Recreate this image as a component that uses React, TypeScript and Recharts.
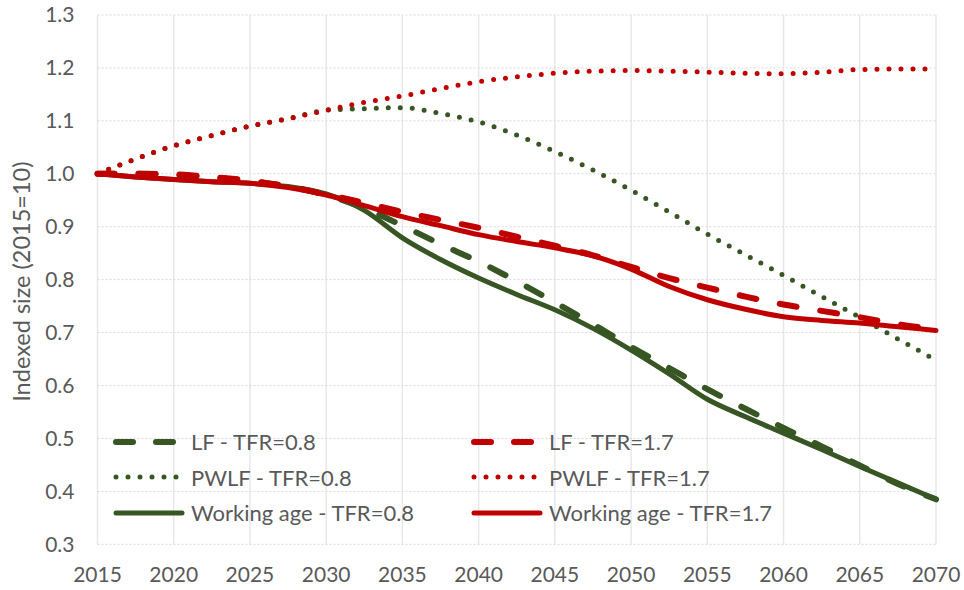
import { LineChart, Line, XAxis, YAxis, CartesianGrid } from 'recharts';

const years = [
  2015, 2017.5, 2020, 2022.5, 2025, 2027.5, 2030, 2032.5, 2035, 2037.5, 2040, 2042.5,
  2045, 2047.5, 2050, 2052.5, 2055, 2057.5, 2060, 2062.5, 2065, 2067.5, 2070,
];

const lf08 = [
  1.0, 1.0, 0.998, 0.993, 0.986, 0.976, 0.96, 0.935, 0.902, 0.867, 0.834, 0.797,
  0.757, 0.716, 0.673, 0.633, 0.593, 0.556, 0.52, 0.485, 0.449, 0.414, 0.385,
];
const pwlf08 = [
  1.0, 1.028, 1.053, 1.072, 1.09, 1.104, 1.12, 1.123, 1.125, 1.114, 1.098, 1.073,
  1.042, 1.007, 0.969, 0.928, 0.886, 0.847, 0.808, 0.768, 0.729, 0.688, 0.648,
];
const wa08 = [
  1.0, 0.994, 0.989, 0.985, 0.982, 0.976, 0.962, 0.931, 0.879, 0.838, 0.803, 0.772,
  0.743, 0.708, 0.667, 0.622, 0.574, 0.541, 0.51, 0.479, 0.447, 0.416, 0.385,
];
const lf17 = [
  1.0, 1.0, 0.999, 0.994, 0.987, 0.976, 0.961, 0.945, 0.928, 0.913, 0.898, 0.881,
  0.864, 0.846, 0.824, 0.803, 0.785, 0.768, 0.753, 0.741, 0.729, 0.716, 0.706,
];
const pwlf17 = [
  1.0, 1.028, 1.053, 1.072, 1.09, 1.104, 1.12, 1.135, 1.147, 1.161, 1.174, 1.183,
  1.19, 1.194, 1.195, 1.194, 1.192, 1.19, 1.189, 1.192, 1.197, 1.198, 1.198,
];
const wa17 = [
  1.0, 0.994, 0.989, 0.985, 0.982, 0.974, 0.96, 0.94, 0.919, 0.902, 0.885, 0.872,
  0.86, 0.845, 0.82, 0.787, 0.762, 0.744, 0.73, 0.723, 0.718, 0.711, 0.704,
];

const xTicks = [2015, 2020, 2025, 2030, 2035, 2040, 2045, 2050, 2055, 2060, 2065, 2070];
const yTicks = [0.3, 0.4, 0.5, 0.6, 0.7, 0.8, 0.9, 1.0, 1.1, 1.2, 1.3];

const GREEN = '#375623';
const RED = '#c00000';
const TEXT = '#595959';
const FONT = 'Lato, "Open Sans", sans-serif';

const data = years.map((year, i) => ({
  year,
  lf08: lf08[i],
  pwlf08: pwlf08[i],
  wa08: wa08[i],
  lf17: lf17[i],
  pwlf17: pwlf17[i],
  wa17: wa17[i],
}));

type Style = 'dash' | 'dot' | 'solid';

const series: { key: string; name: string; color: string; style: Style }[] = [
  { key: 'lf08', name: 'LF - TFR=0.8', color: GREEN, style: 'dash' },
  { key: 'pwlf08', name: 'PWLF - TFR=0.8', color: GREEN, style: 'dot' },
  { key: 'wa08', name: 'Working age - TFR=0.8', color: GREEN, style: 'solid' },
  { key: 'lf17', name: 'LF - TFR=1.7', color: RED, style: 'dash' },
  { key: 'pwlf17', name: 'PWLF - TFR=1.7', color: RED, style: 'dot' },
  { key: 'wa17', name: 'Working age - TFR=1.7', color: RED, style: 'solid' },
];

const strokeFor = (s: Style) => {
  if (s === 'dash') return { strokeWidth: 6, strokeDasharray: '17 24' };
  if (s === 'dot') return { strokeWidth: 5, strokeDasharray: '0 12' };
  return { strokeWidth: 5, strokeDasharray: undefined };
};

const YLabel = (props: any) => {
  const vb = props.viewBox || { x: 0, y: 0, height: 0 };
  const cx = vb.x + 21;
  const cy = vb.y + vb.height / 2 + 2;
  return (
    <text
      x={cx}
      y={cy}
      transform={`rotate(-90 ${cx} ${cy})`}
      textAnchor="middle"
      dominantBaseline="central"
      fill={TEXT}
      fontSize={23.5}
      fontFamily={FONT}
    >
      Indexed size (2015=10)
    </text>
  );
};

function LegendSample({ color, style }: { color: string; style: Style }) {
  const st = strokeFor(style);
  const x2 = style === 'solid' ? 69 : 66;
  return (
    <svg width={74} height={12} style={{ display: 'block' }}>
      <line
        x1={3}
        y1={6}
        x2={x2}
        y2={6}
        stroke={color}
        strokeWidth={st.strokeWidth}
        strokeDasharray={style === 'dash' ? '17 23' : st.strokeDasharray}
        strokeLinecap="round"
      />
    </svg>
  );
}

export default function App() {
  return (
    <div style={{ position: 'relative', width: 964, height: 590 }}>
      <style>{'html, body { margin: 0; padding: 0; overflow: hidden; }'}</style>
      <LineChart
        width={964}
        height={590}
        data={data}
        margin={{ top: 15, right: 28, bottom: 0, left: 0 }}
      >
        <CartesianGrid horizontal={false} stroke="#e8e8e8" strokeWidth={1.5} />
        <CartesianGrid vertical={false} stroke="#d9d9d9" strokeDasharray="2 2" />
        <XAxis
          dataKey="year"
          type="number"
          domain={[2015, 2070]}
          ticks={xTicks}
          axisLine={false}
          tickLine={false}
          tickMargin={17}
          height={45.7}
          tick={{ fill: TEXT, fontSize: 21, fontFamily: FONT }}
        />
        <YAxis
          type="number"
          domain={[0.3, 1.3]}
          ticks={yTicks}
          axisLine={false}
          tickLine={false}
          tickMargin={17}
          width={97.5}
          tickFormatter={(v: number) => v.toFixed(1)}
          tick={{ fill: TEXT, fontSize: 21, fontFamily: FONT }}
          label={<YLabel />}
        />
        {series.map((s) => {
          const st = strokeFor(s.style);
          return (
            <Line
              key={s.key}
              type="monotone"
              dataKey={s.key}
              name={s.name}
              stroke={s.color}
              strokeWidth={st.strokeWidth}
              strokeDasharray={st.strokeDasharray}
              strokeLinecap="round"
              dot={false}
              activeDot={false}
              isAnimationActive={false}
            />
          );
        })}
      </LineChart>
      <div
        style={{
          position: 'absolute',
          left: 113,
          top: 424,
          display: 'grid',
          gridTemplateColumns: '358px 358px',
          gridTemplateRows: 'repeat(3, 35.5px)',
          gridAutoFlow: 'column',
          fontFamily: FONT,
          fontSize: 22,
          color: TEXT,
        }}
      >
        {series.map((s) => (
          <div key={s.key} style={{ display: 'flex', alignItems: 'center', gap: 4, whiteSpace: 'nowrap' }}>
            <LegendSample color={s.color} style={s.style} />
            <span>{s.name}</span>
          </div>
        ))}
      </div>
    </div>
  );
}
